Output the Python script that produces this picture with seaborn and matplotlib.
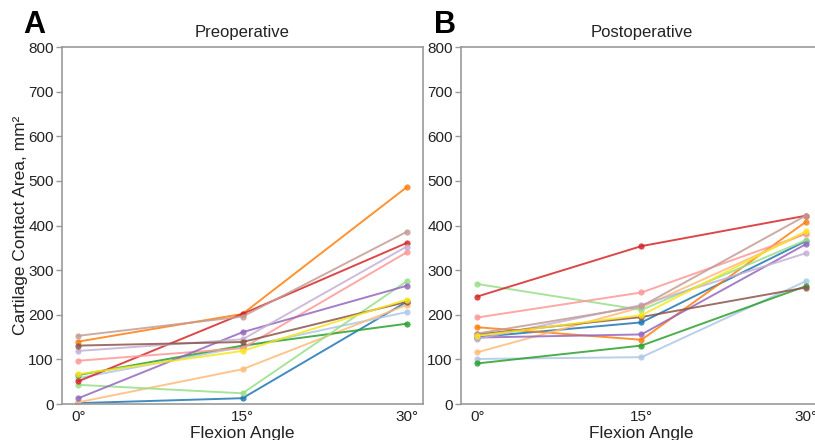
import pandas as pd
import matplotlib.pyplot as plt
import seaborn as sns

angles = [0, 15, 30]
angle_labels = ["0°", "15°", "30°"]
subjects = ["S1", "S2", "S3", "S4", "S5", "S6", "S7",
            "S8", "S9", "S10", "S11", "S12", "S13"]
colors = ["#1f77b4", "#aec7e8", "#ff7f0e", "#ffbb78", "#2ca02c", "#98df8a",
          "#d62728", "#ff9896", "#9467bd", "#c5b0d5", "#8c564b", "#c49c94",
          "#f7e61c"]

# contact area (mm^2) at 0, 15, 30 degrees, one row per subject
pre = [
    [2, 13, 229],
    [58, 128, 206],
    [140, 202, 486],
    [4, 78, 222],
    [65, 131, 180],
    [43, 24, 275],
    [51, 202, 361],
    [97, 125, 340],
    [13, 161, 265],
    [119, 145, 353],
    [131, 139, 229],
    [153, 196, 386],
    [67, 119, 234],
]
post = [
    [150, 183, 365],
    [101, 105, 275],
    [172, 144, 408],
    [116, 217, 383],
    [91, 131, 264],
    [269, 211, 367],
    [241, 354, 422],
    [194, 250, 381],
    [149, 156, 358],
    [146, 222, 338],
    [156, 195, 261],
    [158, 219, 422],
    [153, 199, 387],
]


def to_long(vals):
    rows = []
    for s, v in zip(subjects, vals):
        for a, y in zip(angles, v):
            rows.append({"subject": s, "angle": a, "area": y})
    return pd.DataFrame(rows)


sns.set_style("white")
plt.rcParams['font.family'] = ['Liberation Sans', 'DejaVu Sans']

fig = plt.figure(figsize=(8.15, 4.4), dpi=100)
ax1 = fig.add_axes([0.0761, 0.0818, 0.443, 0.811])
ax2 = fig.add_axes([0.5656, 0.0818, 0.443, 0.811])

for ax, vals, title in [(ax1, pre, "Preoperative"), (ax2, post, "Postoperative")]:
    sns.lineplot(data=to_long(vals), x="angle", y="area", hue="subject",
                 palette=colors, marker="o", markersize=4.5, markeredgewidth=0,
                 linewidth=1.4, alpha=0.85, legend=False, ax=ax)
    ax.set_xlim(-1.5, 31.5)
    ax.set_ylim(0, 800)
    ax.set_xticks(angles)
    ax.set_xticklabels(angle_labels)
    ax.set_yticks(range(0, 801, 100))
    ax.tick_params(axis="y", left=True, length=4, width=1, color="#999999",
                   labelsize=11, pad=2, labelcolor="#222222")
    ax.tick_params(axis="x", bottom=False, labelsize=11, pad=1, labelcolor="#222222")
    ax.set_xlabel("Flexion Angle", fontsize=12.5, color="#222222", labelpad=1)
    ax.set_ylabel("")
    ax.set_title(title, fontsize=12, color="#222222", pad=7)
    for sp in ax.spines.values():
        sp.set_color("#999999")
        sp.set_linewidth(1.2)

ax1.set_ylabel("Cartilage Contact Area, mm²", fontsize=12.5, color="#222222", labelpad=0)
fig.text(0.028, 0.925, "A", fontsize=22, fontweight="bold", color="black")
fig.text(0.532, 0.925, "B", fontsize=22, fontweight="bold", color="black")

plt.savefig("out.png", dpi=100)
